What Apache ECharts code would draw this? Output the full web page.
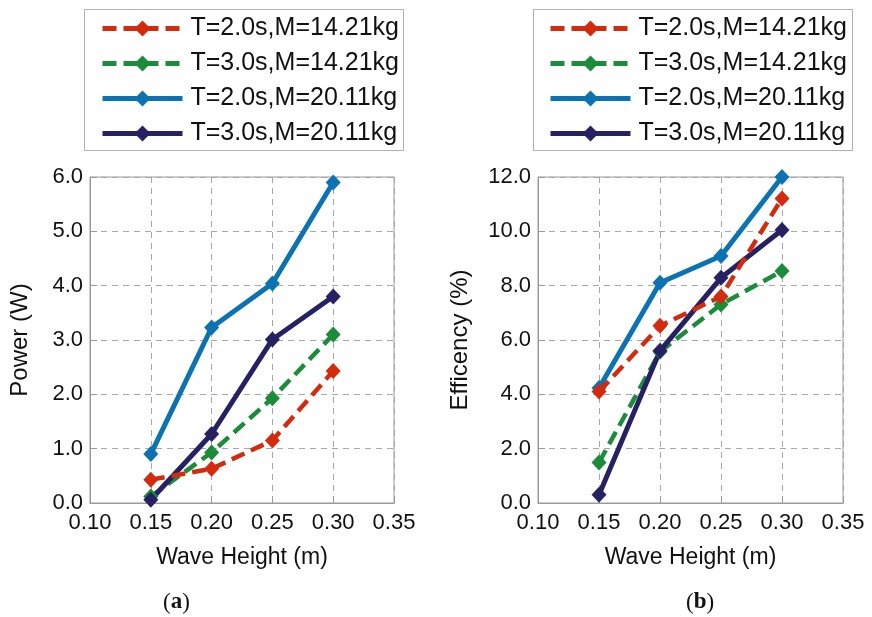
<!DOCTYPE html>
<html>
<head>
<meta charset="utf-8">
<script src="https://cdn.jsdelivr.net/npm/echarts@6/dist/echarts.min.js"></script>
<style>
html,body{margin:0;padding:0;background:#fff;}
#c{width:872px;height:617px;}
</style>
</head>
<body>
<div id="c"></div>
<script>
var waveHeights = [0.15, 0.20, 0.25, 0.30];
var xTicks = [0.10, 0.15, 0.20, 0.25, 0.30, 0.35];
var seriesNames = ['T=2.0s,M=14.21kg', 'T=3.0s,M=14.21kg', 'T=2.0s,M=20.11kg', 'T=3.0s,M=20.11kg'];

// (a) Power (W)
var powerT2M14 = [0.43, 0.63, 1.15, 2.43];
var powerT3M14 = [0.12, 0.93, 1.93, 3.10];
var powerT2M20 = [0.90, 3.23, 4.04, 5.90];
var powerT3M20 = [0.06, 1.27, 3.01, 3.80];

// (b) Efficiency (%)
var effT2M14 = [4.10, 6.52, 7.60, 11.21];
var effT3M14 = [1.49, 5.57, 7.31, 8.54];
var effT2M20 = [4.23, 8.11, 9.09, 12.00];
var effT3M20 = [0.30, 5.60, 8.29, 10.05];

var colors = ['#d42a0e', '#1b8c3a', '#0b73b1', '#262163'];
var dashed = [true, true, false, false];

function pairs(vals) {
  return waveHeights.map(function (x, i) { return [x, vals[i]]; });
}

function mkSeries(vals, idx, axisIdx) {
  return {
    name: seriesNames[idx],
    type: 'line',
    xAxisIndex: axisIdx,
    yAxisIndex: axisIdx,
    data: pairs(vals),
    symbol: 'diamond',
    symbolSize: [15, 16],
    z: 10 - idx + (idx === 3 ? 2 : 0),
    color: colors[idx],
    lineStyle: {
      color: colors[idx],
      width: dashed[idx] ? 4.5 : 5,
      type: dashed[idx] ? [14, 7] : 'solid'
    },
    itemStyle: { color: colors[idx] },
    emphasis: { disabled: true },
    animation: false
  };
}

var tickFont = { fontFamily: 'Liberation Sans, Arial, sans-serif', fontSize: 22, color: '#111' };

function xAxisCfg(gridIdx) {
  return {
    type: 'value', gridIndex: gridIdx,
    min: 0.10, max: 0.35, interval: 0.05,
    axisLine: { show: true, lineStyle: { color: '#9a9a9a', width: 1 } },
    axisTick: { show: true, inside: true, length: 7, lineStyle: { color: '#9a9a9a' } },
    axisLabel: Object.assign({ margin: 9, formatter: function (v) { return v.toFixed(2); } }, tickFont),
    splitLine: { show: true, lineStyle: { color: '#a8a8a8', type: [6, 5], width: 1 } },
    name: 'Wave Height (m)',
    nameLocation: 'middle',
    nameGap: 43,
    nameTextStyle: { fontFamily: 'Liberation Sans, Arial, sans-serif', fontSize: 23, color: '#111' }
  };
}

function yAxisCfg(gridIdx, max, interval, name, gap) {
  return {
    type: 'value', gridIndex: gridIdx,
    min: 0, max: max, interval: interval,
    axisLine: { show: true, lineStyle: { color: '#9a9a9a', width: 1 } },
    axisTick: { show: true, inside: true, length: 7, lineStyle: { color: '#9a9a9a' } },
    axisLabel: Object.assign({ margin: 7, formatter: function (v) { return v.toFixed(1); } }, tickFont),
    splitLine: { show: true, lineStyle: { color: '#a8a8a8', type: [6, 5], width: 1 } },
    name: name,
    nameLocation: 'middle',
    nameGap: gap,
    nameTextStyle: { fontFamily: 'Liberation Sans, Arial, sans-serif', fontSize: 24, color: '#111' }
  };
}

function legendCfg(left) {
  return {
    left: left, top: 16,
    orient: 'vertical',
    data: seriesNames,
    itemWidth: 80, itemHeight: 20, itemGap: 10,
    selectedMode: false,
    lineStyle: { width: 5 },
    textStyle: { fontFamily: 'Liberation Sans, Arial, sans-serif', fontSize: 25, color: '#111', lineHeight: 24, padding: [0, 0, 0, 3] },
    padding: 0
  };
}

var chart = echarts.init(document.getElementById('c'), null, { renderer: 'canvas' });
chart.setOption({
  backgroundColor: '#ffffff',
  animation: false,
  grid: [
    { left: 90, top: 177, width: 304, height: 326, show: true, borderColor: '#9a9a9a', borderWidth: 1, backgroundColor: 'transparent' },
    { left: 538, top: 177, width: 305, height: 326, show: true, borderColor: '#9a9a9a', borderWidth: 1, backgroundColor: 'transparent' }
  ],
  legend: [legendCfg(100), legendCfg(548)],
  xAxis: [xAxisCfg(0), xAxisCfg(1)],
  yAxis: [
    yAxisCfg(0, 6, 1, 'Power (W)', 58),
    yAxisCfg(1, 12, 2, 'Efficency (%)', 66)
  ],
  graphic: [
    { type: 'rect', shape: { x: 84.5, y: 9.5, width: 319, height: 141 }, style: { fill: 'none', stroke: '#b0b0b0', lineWidth: 1 }, z: -1 },
    { type: 'rect', shape: { x: 533.5, y: 9.5, width: 319, height: 141 }, style: { fill: 'none', stroke: '#b0b0b0', lineWidth: 1 }, z: -1 },
    { type: 'text', left: 163, top: 591, style: { text: '({b|a})', font: '23px "Liberation Serif", serif', fill: '#111', rich: { b: { fontFamily: 'Liberation Serif, serif', fontSize: 23, fontWeight: 'bold', fill: '#111' } } } },
    { type: 'text', left: 686, top: 591, style: { text: '({b|b})', font: '23px "Liberation Serif", serif', fill: '#111', rich: { b: { fontFamily: 'Liberation Serif, serif', fontSize: 23, fontWeight: 'bold', fill: '#111' } } } }
  ],
  series: [
    mkSeries(powerT2M14, 0, 0),
    mkSeries(powerT3M14, 1, 0),
    mkSeries(powerT2M20, 2, 0),
    mkSeries(powerT3M20, 3, 0),
    mkSeries(effT2M14, 0, 1),
    mkSeries(effT3M14, 1, 1),
    mkSeries(effT2M20, 2, 1),
    mkSeries(effT3M20, 3, 1)
  ]
});
</script>
</body>
</html>
